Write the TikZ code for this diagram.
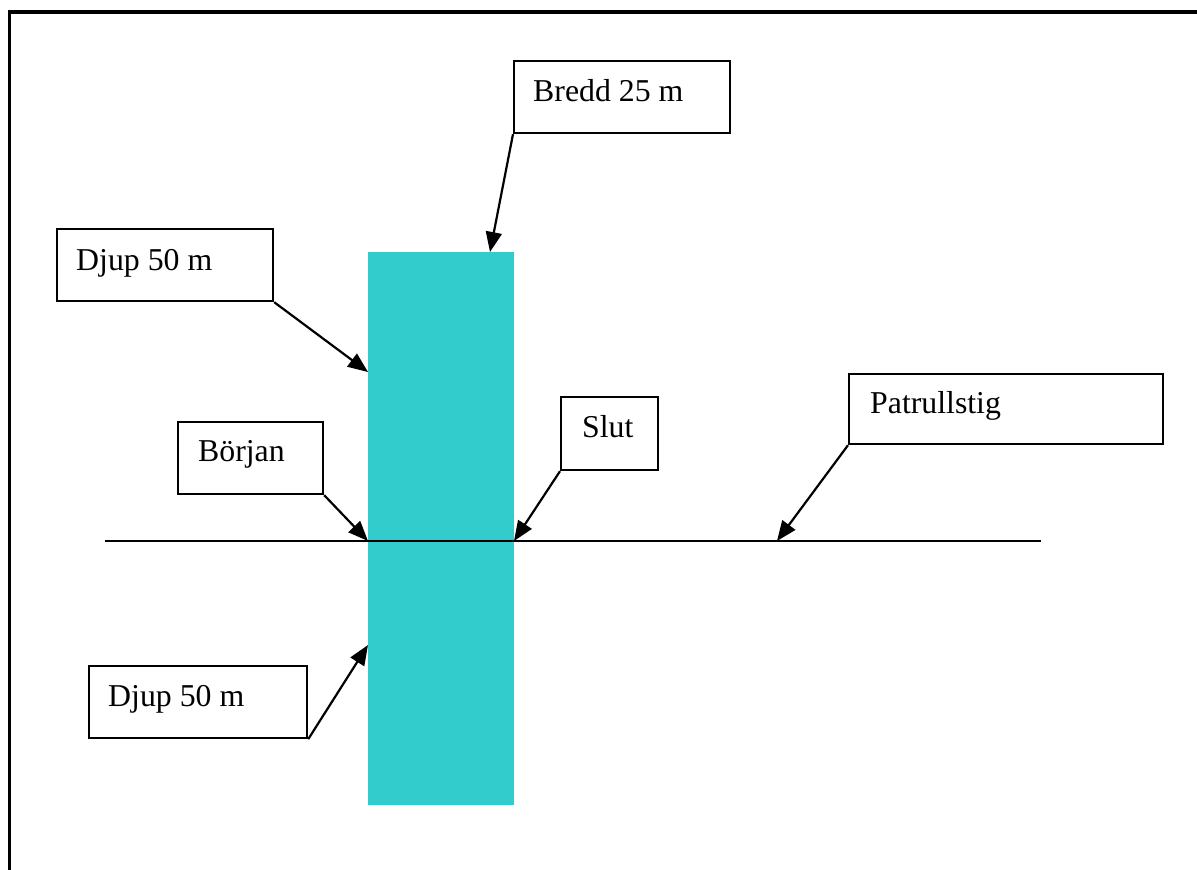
\documentclass[tikz,border=0pt]{standalone}
\usepackage{fontspec}
\setmainfont{Liberation Serif}
\usetikzlibrary{arrows.meta}
\definecolor{pool}{HTML}{33CCCC}
\tikzset{
  lbox/.style={draw=black, line width=2.2pt, fill=white, inner sep=0pt, anchor=north west},
  ltext/.style={anchor=base west, inner sep=0pt, font=\fontsize{31.8}{38}\selectfont},
  arr/.style={line width=2.2pt, -{Triangle[length=20pt,width=16pt]}},
}
\begin{document}
\begin{tikzpicture}[x=1pt,y=-1pt]
\useasboundingbox (0,0) rectangle (1197,870);
% outer frame
\draw[line width=3.2pt] (9.5,872) -- (9.5,12) -- (1199,12);
% pool
\node[fill=pool, inner sep=0pt, minimum width=146pt, minimum height=553pt, anchor=north west] (pool) at (368,252) {};
% path line
\coordinate (pl) at (105,541);
\coordinate (pr) at (1041,541);
\draw[line width=2.4pt] (pl) -- (pr);
% targets
\coordinate (tbredd) at (490,252);
\coordinate (tdjup1) at (368,372);
\coordinate (tborj) at (368,541);
\coordinate (tslut) at (514,541);
\coordinate (tpat) at (777,541);
\coordinate (tdjup2) at (368,645);
% boxes
\node[lbox, minimum width=216pt, minimum height=72pt] (bredd) at (513,60) {};
\node[ltext] (breddt) at (533,101) {Bredd 25 m};
\node[lbox, minimum width=216pt, minimum height=72pt] (djup1) at (56,228) {};
\node[ltext] (djup1t) at (76,270) {Djup 50 m};
\node[lbox, minimum width=145pt, minimum height=72pt] (borj) at (177,421) {};
\node[ltext] (borjt) at (198,461) {Början};
\node[lbox, minimum width=97pt, minimum height=73pt] (slut) at (560,396) {};
\node[ltext] (slutt) at (582,437) {Slut};
\node[lbox, minimum width=314pt, minimum height=70pt] (pat) at (848,373) {};
\node[ltext] (patt) at (870,413) {Patrullstig};
\node[lbox, minimum width=218pt, minimum height=72pt] (djup2) at (88,665) {};
\node[ltext] (djup2t) at (108,706) {Djup 50 m};
% arrows
\draw[arr] (bredd.south west) -- (tbredd);
\draw[arr] (djup1.south east) -- (tdjup1);
\draw[arr] (borj.south east) -- (tborj);
\draw[arr] (slut.south west) -- (tslut);
\draw[arr] (pat.south west) -- (tpat);
\draw[arr] (djup2.south east) -- (tdjup2);
\end{tikzpicture}
\end{document}
